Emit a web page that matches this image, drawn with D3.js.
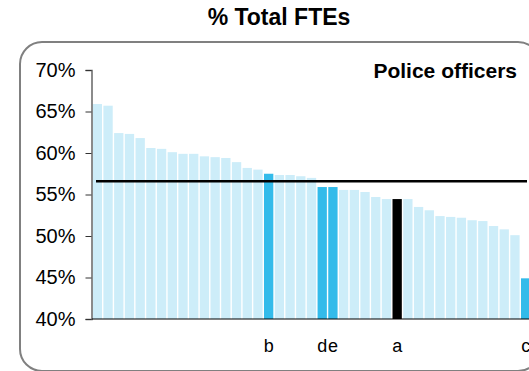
<!DOCTYPE html>
<html>
<head>
<meta charset="utf-8">
<script src="https://cdn.jsdelivr.net/npm/d3@7"></script>
<style>
  body { margin: 0; background: #fff; }
  svg { display: block; font-family: Arial, "Liberation Sans", sans-serif; }
</style>
</head>
<body>
<div id="chart"></div>
<script>
// % of total FTEs that are police officers, one bar per force
const values = [65.9, 65.7, 62.4, 62.3, 61.8, 60.6, 60.5, 60.1, 59.9, 59.9,
  59.6, 59.5, 59.4, 58.9, 58.2, 58.0, 57.5, 57.35, 57.35, 57.2,
  57.0, 55.9, 55.9, 55.55, 55.55, 55.3, 54.7, 54.45, 54.45, 54.45,
  53.5, 53.1, 52.4, 52.3, 52.2, 51.9, 51.8, 51.2, 50.8, 50.1, 44.9];
const labels = values.map(() => "");
labels[16] = "b"; labels[21] = "d"; labels[22] = "e"; labels[28] = "a"; labels[40] = "c";
const average = 56.6;
const yTicks = [40, 45, 50, 55, 60, 65, 70];

const width = 529, height = 371;
const svg = d3.select("#chart").append("svg")
  .attr("width", width)
  .attr("height", height);

// rounded frame
svg.append("rect")
  .attr("x", 20).attr("y", 42)
  .attr("width", 520).attr("height", 329)
  .attr("rx", 22).attr("ry", 22)
  .attr("fill", "none")
  .attr("stroke", "#808080")
  .attr("stroke-width", 2);

svg.append("text")
  .attr("x", 279).attr("y", 25)
  .attr("text-anchor", "middle")
  .style("font-size", "23px")
  .style("font-weight", "bold")
  .text("% Total FTEs");

const x = d3.scaleBand()
  .domain(d3.range(values.length))
  .range([92, 531])
  .paddingInner(0.13)
  .paddingOuter(0.065);

const y = d3.scaleLinear()
  .domain([40, 70])
  .range([319, 70]);

function barColor(i) {
  if (labels[i] === "a") return "#000000";
  if (labels[i] !== "") return "#33bbea";
  return "#cdedf9";
}

svg.append("g")
  .selectAll("rect")
  .data(values)
  .enter()
  .append("rect")
  .attr("x", (d, i) => x(i))
  .attr("y", d => y(d))
  .attr("width", x.bandwidth())
  .attr("height", d => y(40) - y(d))
  .attr("fill", (d, i) => barColor(i));

// y axis
const yAxis = svg.append("g")
  .attr("transform", "translate(91.5,0)")
  .call(d3.axisLeft(y).tickValues(yTicks).tickSize(6).tickPadding(10).tickFormat(d => d + "%"));
yAxis.select(".domain").attr("stroke", "#666").attr("stroke-width", 1.5);
yAxis.selectAll(".tick line").attr("stroke", "#333");
yAxis.selectAll(".tick text")
  .attr("fill", "#000")
  .style("font-size", "20px")
  .style("font-family", "Arial, 'Liberation Sans', sans-serif");

// x axis with labels only for highlighted forces
const xAxis = svg.append("g")
  .attr("transform", "translate(0,319)")
  .call(d3.axisBottom(x).tickSize(0).tickPadding(20).tickFormat(i => labels[i]));
xAxis.select(".domain").attr("stroke", "#000").attr("d", "M92,0H529");
xAxis.selectAll(".tick text")
  .attr("fill", "#000")
  .style("font-size", "18px")
  .style("font-family", "Arial, 'Liberation Sans', sans-serif");

// average line
svg.append("line")
  .attr("x1", 96).attr("x2", 527)
  .attr("y1", y(average)).attr("y2", y(average))
  .attr("stroke", "#000")
  .attr("stroke-width", 2.5);

svg.append("text")
  .attr("x", 517).attr("y", 78)
  .attr("text-anchor", "end")
  .style("font-size", "21px")
  .style("font-weight", "bold")
  .text("Police officers");
</script>
</body>
</html>
